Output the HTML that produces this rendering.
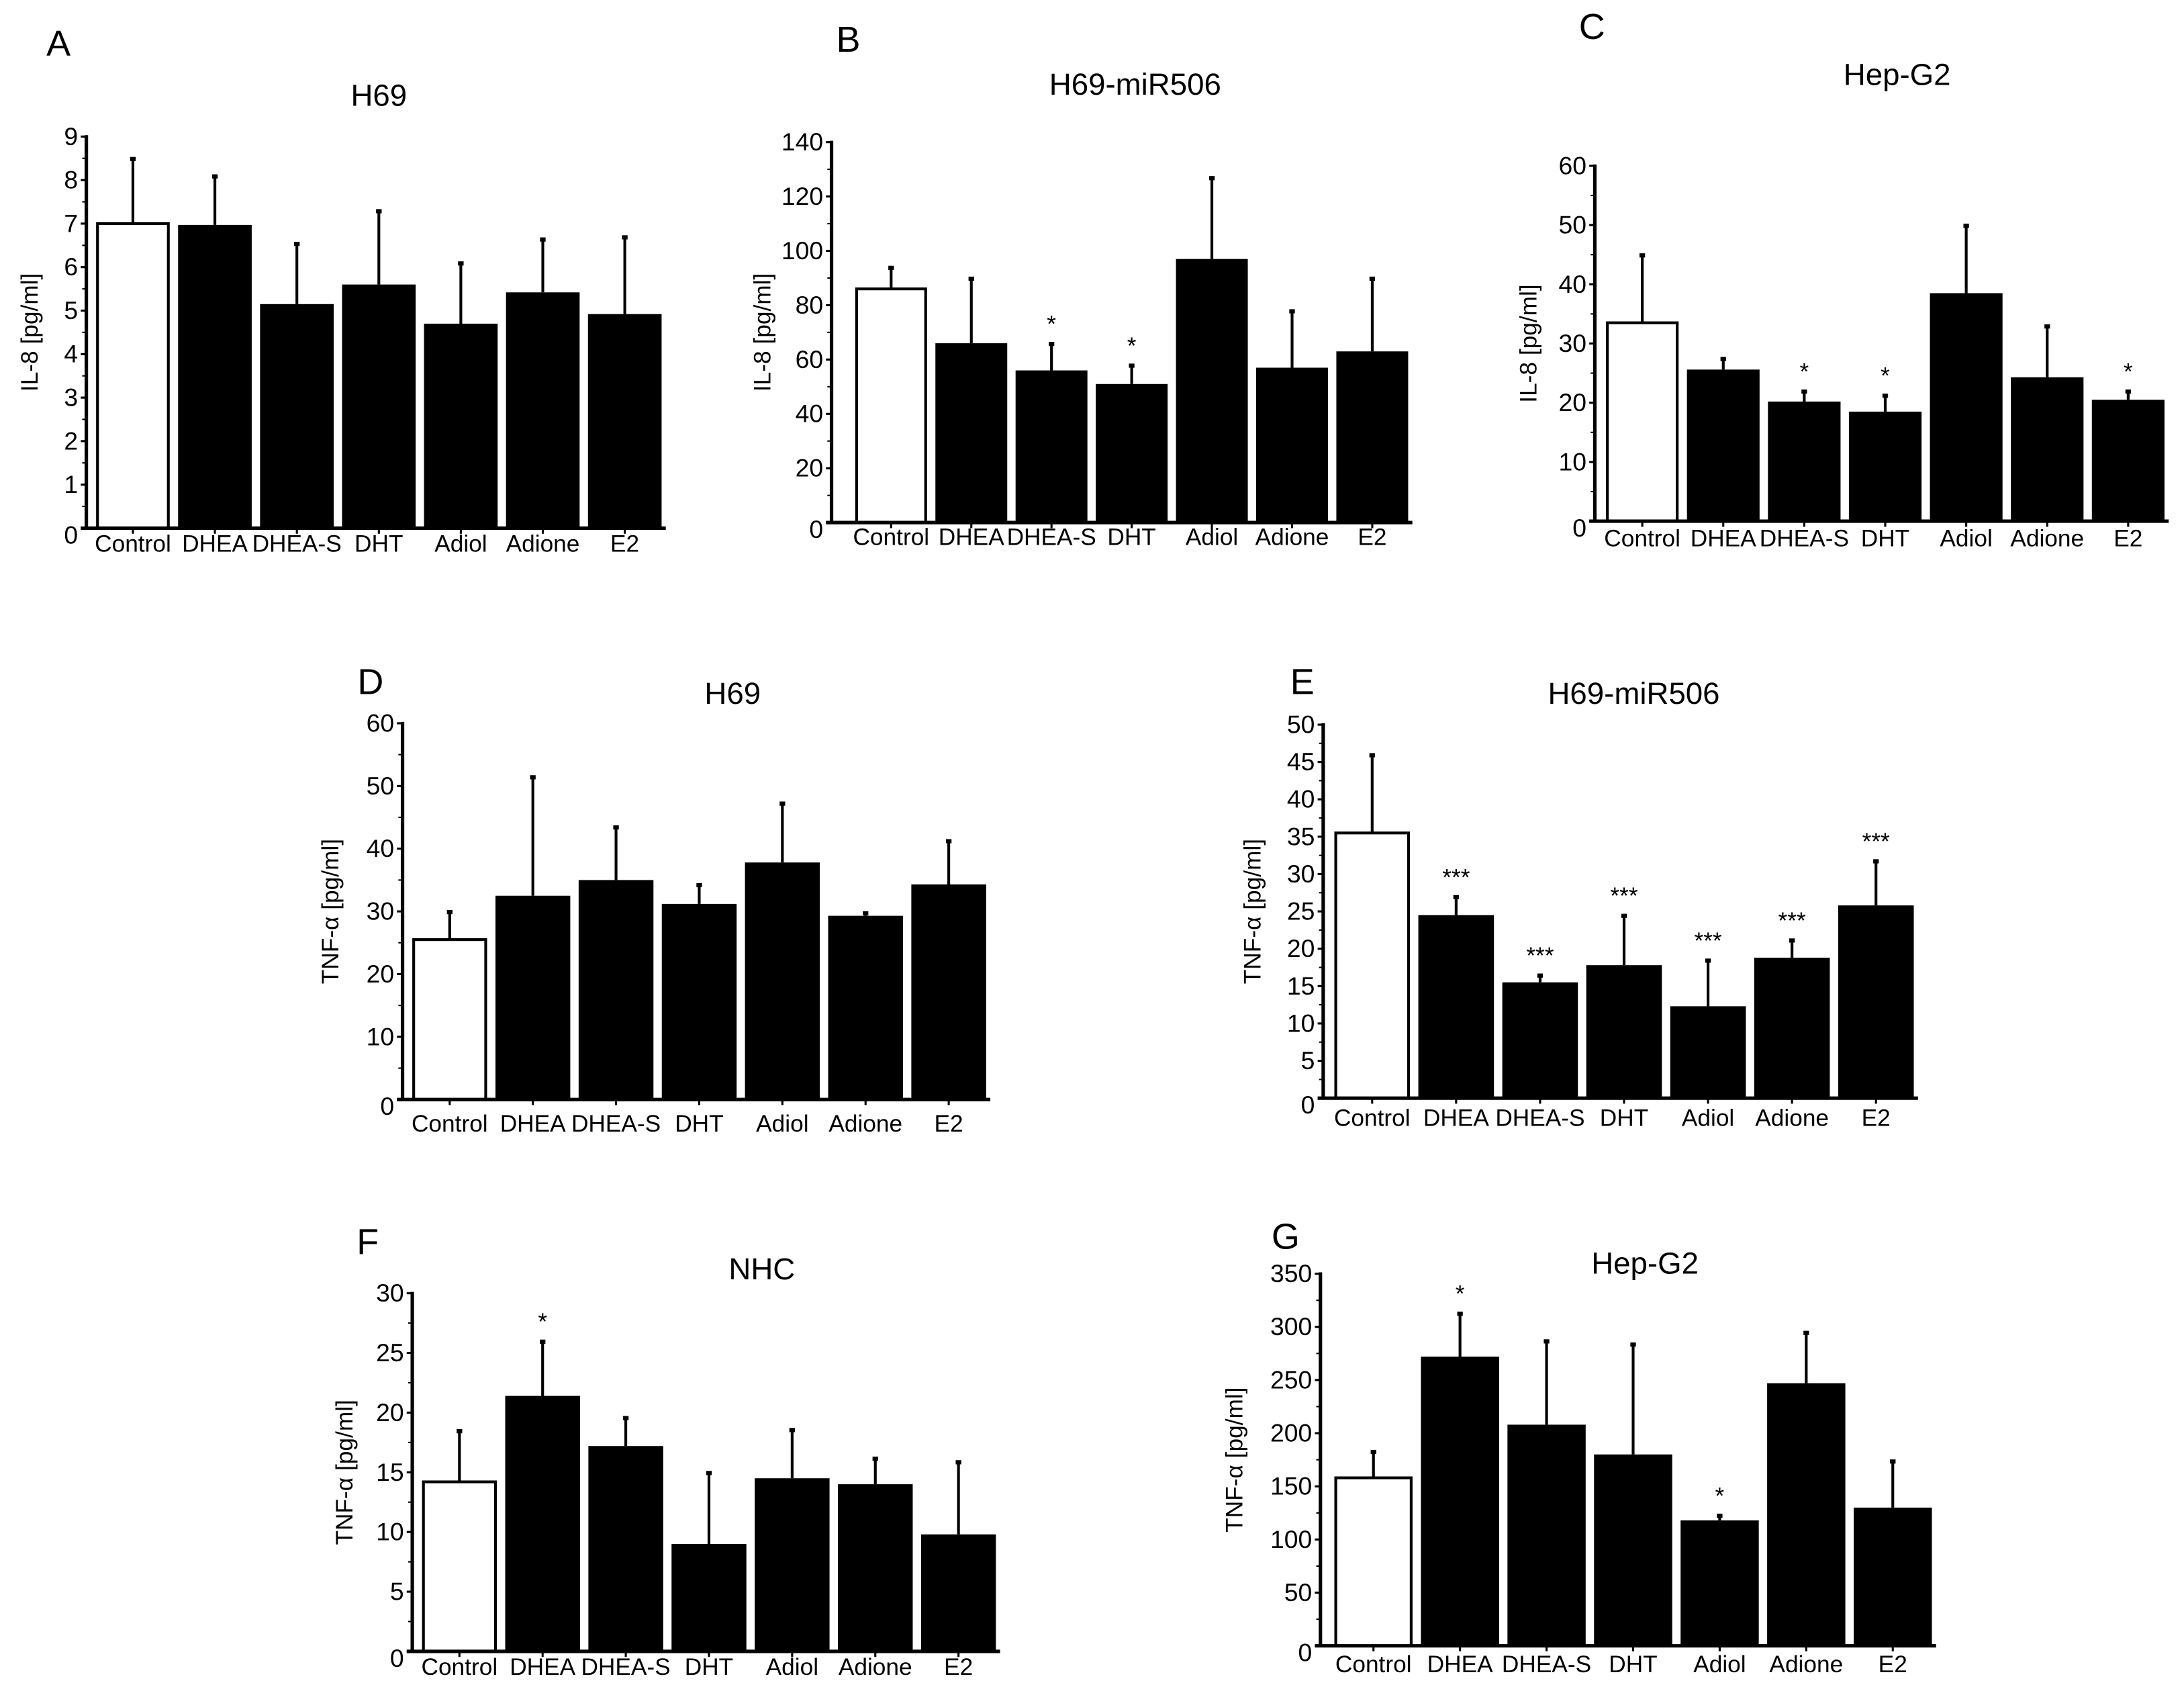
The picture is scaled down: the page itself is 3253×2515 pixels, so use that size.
<!DOCTYPE html>
<html><head><meta charset="utf-8"><style>
html,body{margin:0;padding:0;background:#fff;}
svg{display:block;font-family:"Liberation Sans",Arial,sans-serif;}
</style></head><body>
<svg id="fig" xmlns="http://www.w3.org/2000/svg" width="3253" height="2515" viewBox="0 0 1568 1212" preserveAspectRatio="none"></svg>
<script>
const categories = ["Control","DHEA","DHEA-S","DHT","Adiol","Adione","E2"];
const aValues = [7, 6.97, 5.15, 5.6, 4.7, 5.42, 4.92];
const aErrTop = [8.5, 8.1, 6.55, 7.3, 6.1, 6.65, 6.7];
const aSig = ["","","","","","",""];
const aTicks = [0,1,2,3,4,5,6,7,8,9];
const bValues = [86, 66, 56, 51, 97, 57, 63];
const bErrTop = [94, 90, 66, 58, 127, 78, 90];
const bSig = ["","","*","*","","",""];
const bTicks = [0,20,40,60,80,100,120,140];
const cValues = [33.5, 25.6, 20.2, 18.5, 38.5, 24.3, 20.5];
const cErrTop = [45, 27.5, 22, 21.3, 50, 33, 22];
const cSig = ["","","*","*","","","*"];
const cTicks = [0,10,20,30,40,50,60];
const dValues = [25.5, 32.5, 35, 31.2, 37.8, 29.3, 34.3];
const dErrTop = [30, 51.5, 43.5, 34.3, 47.3, 29.8, 41.3];
const dSig = ["","","","","","",""];
const dTicks = [0,10,20,30,40,50,60];
const eValues = [35.5, 24.5, 15.5, 17.8, 12.3, 18.8, 25.8];
const eErrTop = [46, 27, 16.5, 24.5, 18.5, 21.2, 31.8];
const eSig = ["","***","***","***","***","***","***"];
const eTicks = [0,5,10,15,20,25,30,35,40,45,50];
const fValues = [14.2, 21.4, 17.2, 9, 14.5, 14, 9.8];
const fErrTop = [18.5, 26, 19.6, 15, 18.6, 16.2, 15.9];
const fSig = ["","*","","","","",""];
const fTicks = [0,5,10,15,20,25,30];
const gValues = [158, 272, 208, 180, 118, 247, 130];
const gErrTop = [183, 313, 287, 284, 123, 295, 174];
const gSig = ["","*","","","*","",""];
const gTicks = [0,50,100,150,200,250,300,350];

const NS="http://www.w3.org/2000/svg";
const svg=document.getElementById('fig');
function mk(tag,attrs,parent){const e=document.createElementNS(NS,tag);for(const k in attrs)e.setAttribute(k,attrs[k]);(parent||svg).appendChild(e);return e;}

const panels=[
 {id:'a',letter:'A',lx:42,ly:40,title:'H69',tx:272,ty:76,ylab:'IL-8  [pg/ml]',ylx:27,ax:62,y0:379,yTop:98,max:9,x0:66,x1:478,xEnd:478,labY:396,v:aValues,e:aErrTop,s:aSig,t:aTicks},
 {id:'b',letter:'B',lx:609,ly:37,title:'H69-miR506',tx:815,ty:68,ylab:'IL-8  [pg/ml]',ylx:553,ax:597,y0:375,yTop:102,max:140,x0:611,x1:1014,xEnd:1014,labY:391,v:bValues,e:bErrTop,s:bSig,t:bTicks},
 {id:'c',letter:'C',lx:1143,ly:28,title:'Hep-G2',tx:1362,ty:61,ylab:'IL-8  [pg/ml]',ylx:1103,ax:1145,y0:374,yTop:119,max:60,x0:1150,x1:1557,xEnd:1557,labY:392,v:cValues,e:cErrTop,s:cSig,t:cTicks},
 {id:'d',letter:'D',lx:266,ly:498,title:'H69',tx:526,ty:505,ylab:'TNF-\u03b1  [pg/ml]',ylx:243,ax:289,y0:789,yTop:519,max:60,x0:293,x1:711,xEnd:711,labY:812,v:dValues,e:dErrTop,s:dSig,t:dTicks},
 {id:'e',letter:'E',lx:935,ly:498,title:'H69-miR506',tx:1173,ty:505,ylab:'TNF-\u03b1  [pg/ml]',ylx:905,ax:950,y0:788,yTop:520,max:50,x0:955,x1:1377,xEnd:1377,labY:808,v:eValues,e:eErrTop,s:eSig,t:eTicks},
 {id:'f',letter:'F',lx:264,ly:900,title:'NHC',tx:547,ty:918,ylab:'TNF-\u03b1  [pg/ml]',ylx:253,ax:296,y0:1185,yTop:928,max:30,x0:300,x1:718,xEnd:718,labY:1202,v:fValues,e:fErrTop,s:fSig,t:fTicks},
 {id:'g',letter:'G',lx:923,ly:896,title:'Hep-G2',tx:1181,ty:914,ylab:'TNF-\u03b1  [pg/ml]',ylx:892,ax:948,y0:1181,yTop:914,max:350,x0:955,x1:1390,xEnd:1390,labY:1200,v:gValues,e:gErrTop,s:gSig,t:gTicks}
];

panels.forEach(p=>{
  const g=mk('g',{});
  
  
  const yS=v=>p.y0-(v/p.max)*(p.y0-p.yTop);
  const n=categories.length, slot=(p.x1-p.x0)/n, bw=slot-6;
  const L=mk('text',{x:p.lx,y:p.ly,'font-size':26,'text-anchor':'middle'},g);L.textContent=p.letter;
  
  
  const T=mk('text',{x:p.tx,y:p.ty,'font-size':22,'text-anchor':'middle'},g);T.textContent=p.title;
  
  
  const yl=mk('text',{x:p.ylx,y:(p.y0+p.yTop)/2,'font-size':17,'text-anchor':'middle',transform:`rotate(-90 ${p.ylx} ${(p.y0+p.yTop)/2})`},g);yl.textContent=p.ylab;
  
  
  p.v.forEach((v,i)=>{
    const x=p.x0+i*slot+3, cx=x+bw/2, yt=yS(v);
    const et=yS(p.e[i]);
    const eb=mk('line',{x1:cx,x2:cx,y1:yt,y2:et,stroke:'#000','stroke-width':2},g);
    
    
    const cap=mk('rect',{x:cx-2,y:et-1,width:4,height:3,fill:'#000'},g);
    
    
    const r=mk('rect',{x:x+(i==0?1:0),y:yt,width:bw-(i==0?2:0),height:p.y0-yt,fill:i==0?'#fff':'#000',stroke:'#000','stroke-width':i==0?2:0},g);
    
    
    if(p.s[i]){
      const st=mk('text',{x:cx,y:et-8,'font-size':17,'text-anchor':'middle'},g);st.textContent=p.s[i];
      
      
    }
    const xt=mk('line',{x1:cx,x2:cx,y1:p.y0,y2:p.y0+4,stroke:'#000','stroke-width':1.5},g);
    
    
    const lb=mk('text',{x:cx,y:p.labY,'font-size':17,'text-anchor':'middle'},g);lb.textContent=categories[i];
    
    
  });
  const ya=mk('line',{x1:p.ax,x2:p.ax,y1:p.yTop-1,y2:p.y0+1,stroke:'#000','stroke-width':2.5},g);
  
  
  const xa=mk('line',{x1:p.ax-4,x2:p.xEnd,y1:p.y0,y2:p.y0,stroke:'#000','stroke-width':2.5},g);
  
  
  p.t.forEach((t,k)=>{
    const y=yS(t);
    const tk=mk('line',{x1:p.ax-4,x2:p.ax,y1:y,y2:y,stroke:'#000','stroke-width':1.5},g);
    
    
    if(k<p.t.length-1){
      const ym=yS((t+p.t[k+1])/2);
      const mt=mk('line',{x1:p.ax-3,x2:p.ax,y1:ym,y2:ym,stroke:'#000','stroke-width':1},g);
      
      
    }
    const tl=mk('text',{x:p.ax-6,y:y+(t==0?11:6),'font-size':18,'text-anchor':'end'},g);tl.textContent=t;
    
    
  });
});
</script>
</body></html>
